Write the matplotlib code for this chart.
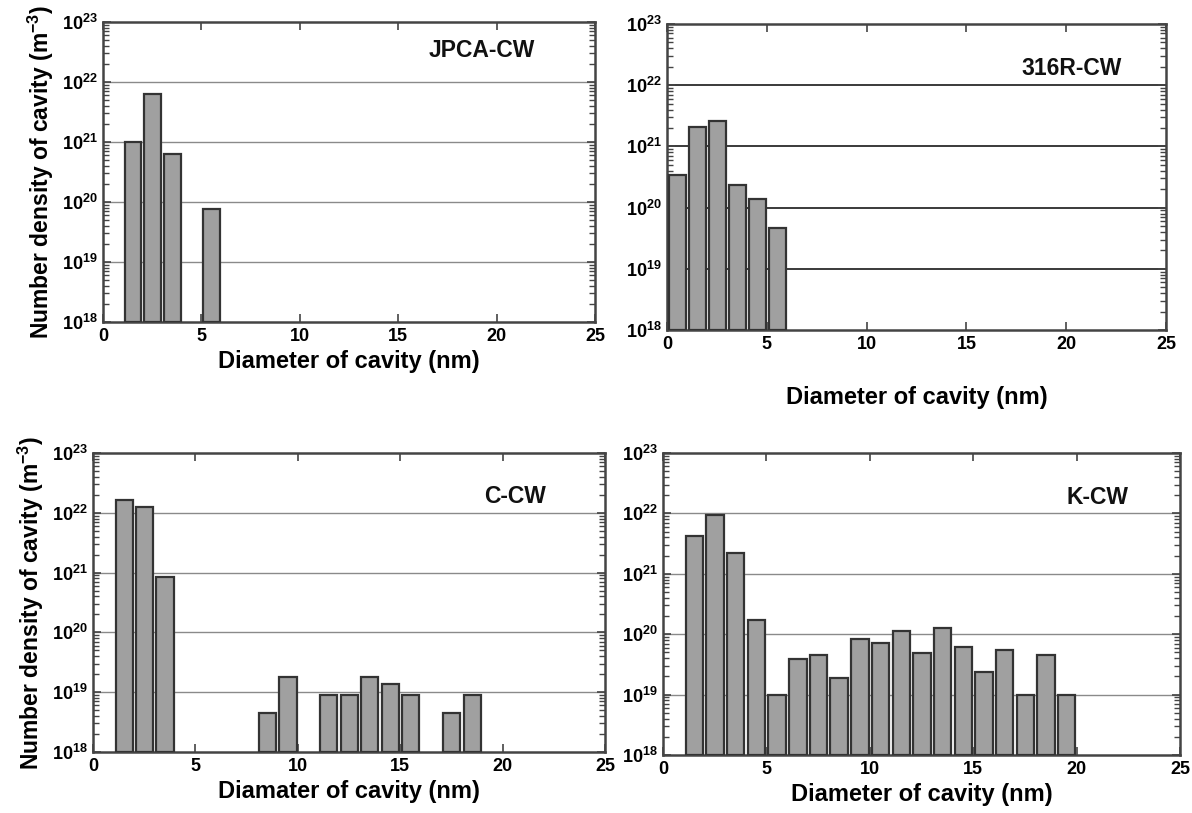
import numpy as np
import matplotlib
matplotlib.use("Agg")
import matplotlib.pyplot as plt
from matplotlib.ticker import FixedLocator, LogLocator, FuncFormatter, NullFormatter

plt.rcParams['font.family'] = ['Liberation Sans', 'DejaVu Sans']
plt.rcParams['mathtext.fontset'] = 'custom'
plt.rcParams['mathtext.rm'] = 'Liberation Sans:bold'
plt.rcParams['mathtext.bf'] = 'Liberation Sans:bold'
plt.rcParams['mathtext.it'] = 'Liberation Sans:bold'

# ---- data (bin left edge in nm, number density in m^-3) ----
jpca_bins = [1, 2, 3, 5]
jpca_vals = [1.0e21, 6.2e21, 6.2e20, 7.6e19]

r316_bins = [0, 1, 2, 3, 4, 5]
r316_vals = [3.4e20, 2.1e21, 2.6e21, 2.3e20, 1.4e20, 4.6e19]

c_bins = [1, 2, 3, 8, 9, 11, 12, 13, 14, 15, 17, 18]
c_vals = [1.66e22, 1.26e22, 8.6e20, 4.5e18, 1.8e19, 9.1e18, 9.1e18,
          1.8e19, 1.38e19, 9.1e18, 4.5e18, 9.1e18]

k_bins = [1, 2, 3, 4, 5, 6, 7, 8, 9, 10, 11, 12, 13, 14, 15, 16, 17, 18, 19]
k_vals = [4.3e21, 9.5e21, 2.2e21, 1.74e20, 1.0e19, 3.9e19, 4.5e19, 1.9e19,
          8.3e19, 7.2e19, 1.14e20, 4.9e19, 1.26e20, 6.2e19, 2.4e19, 5.4e19,
          1.0e19, 4.5e19, 1.0e19]

panel_names = ["JPCA-CW", "316R-CW", "C-CW", "K-CW"]
xlabels = ["Diameter of cavity (nm)", "Diameter of cavity (nm)",
           "Diamater of cavity (nm)", "Diameter of cavity (nm)"]
ylabel = "Number density of cavity (m$^{-3}$)"
xticks = [0, 5, 10, 15, 20, 25]
ydecades = [18, 19, 20, 21, 22, 23]

fig = plt.figure(figsize=(11.92, 8.13), dpi=100)

positions = [
    [0.0864, 0.6039, 0.4128, 0.3690],
    [0.5596, 0.5941, 0.4186, 0.3764],
    [0.0780, 0.0750, 0.4295, 0.3678],
    [0.5562, 0.0713, 0.4337, 0.3715],
]
datasets = [(jpca_bins, jpca_vals), (r316_bins, r316_vals),
            (c_bins, c_vals), (k_bins, k_vals)]
label_pos = [(0.77, 0.905), (0.81, 0.856), (0.824, 0.853), (0.84, 0.854)]
grid_colors = ["#8a8a8a", "#3a3a3a", "#8a8a8a", "#8a8a8a"]
grid_lw = [1.0, 1.4, 1.0, 1.0]
xlabel_pad = [4, 24, 4, 4]

sup = FuncFormatter(lambda v, p: r"$\mathbf{10^{%d}}$" % int(round(np.log10(v))))

for i, (pos, (bins, vals)) in enumerate(zip(positions, datasets)):
    ax = fig.add_axes(pos)
    centers = np.array(bins) + 0.52
    ax.set_yscale('log')
    ax.set_xlim(0, 25)
    ax.set_ylim(1e18, 1e23)
    for d in ydecades[1:-1]:
        ax.axhline(10.0 ** d, color=grid_colors[i], lw=grid_lw[i], zorder=1)
    ax.bar(centers, np.array(vals) - 1e18, bottom=1e18, width=0.84,
           color="#a0a0a0", edgecolor="#333333", linewidth=1.6, zorder=3)
    ax.yaxis.set_major_locator(FixedLocator([10.0 ** d for d in ydecades]))
    ax.yaxis.set_minor_locator(LogLocator(base=10, subs=np.arange(2, 10) * 1.0, numticks=20))
    ax.yaxis.set_major_formatter(sup)
    ax.yaxis.set_minor_formatter(NullFormatter())
    ax.set_xticks(xticks)
    ax.tick_params(axis='both', which='both', direction='in', top=True, right=True,
                   color="#444444")
    ax.tick_params(axis='both', which='major', length=6, width=1.2, labelsize=13, pad=4)
    ax.tick_params(axis='y', which='minor', length=4, width=1.0)
    for lab in ax.get_xticklabels():
        lab.set_fontweight('bold')
    for s in ax.spines.values():
        s.set_color("#444444")
        s.set_linewidth(1.8)
    ax.set_xlabel(xlabels[i], fontsize=17, fontweight='bold', labelpad=xlabel_pad[i])
    if i in (0, 2):
        ax.set_ylabel(ylabel, fontsize=16.5, fontweight='bold', labelpad=4)
    ax.text(label_pos[i][0], label_pos[i][1], panel_names[i], transform=ax.transAxes,
            ha='center', va='center', fontsize=16.5, fontweight='bold', color="#111111")

fig.savefig("out.png", dpi=100)
